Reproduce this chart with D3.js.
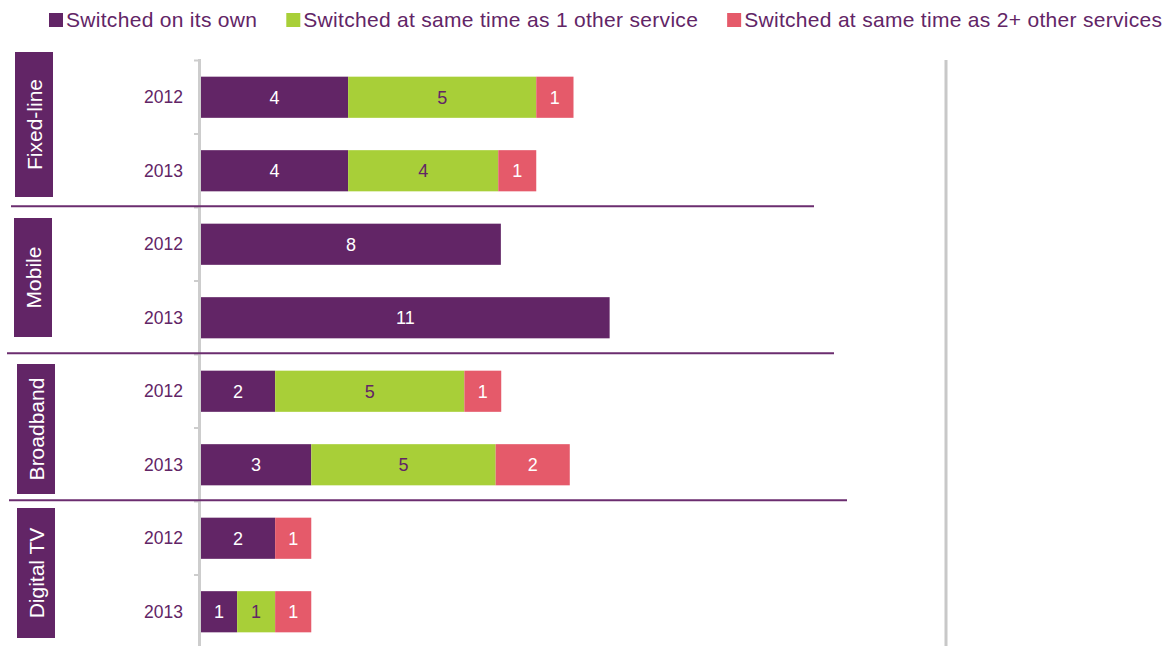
<!DOCTYPE html>
<html>
<head>
<meta charset="utf-8">
<script src="https://cdn.jsdelivr.net/npm/d3@7"></script>
<style>
  html, body { margin: 0; padding: 0; background: #fff; }
  svg { display: block; }
  svg text { font-family: "Liberation Sans", Arimo, Arial, Helvetica, sans-serif; }
</style>
</head>
<body>
<svg id="chart" width="1172" height="646"></svg>
<script>
// ---- data ----
const services = ["Fixed-line", "Mobile", "Broadband", "Digital TV"];
const years = ["2012", "2013"];
const seriesNames = [
  "Switched on its own",
  "Switched at same time as 1 other service",
  "Switched at same time as 2+ other services"
];
// rows: Fixed-line 2012, 2013, Mobile 2012, 2013, Broadband 2012, 2013, Digital TV 2012, 2013
const ownValues   = [3.95, 3.95, 8.05, 10.97, 1.99, 2.96, 1.99, 0.97];
const oneValues   = [5.05, 4.03, 0,    0,     5.08, 4.95, 0,    1.02];
const twoValues   = [1.00, 1.02, 0,    0,     0.99, 1.99, 0.97, 0.97];
const xMax = 20;

// ---- styles / layout ----
const FONT = "Liberation Sans";
const colors = ["#622566", "#a8cf38", "#e55a6a"];
const labelColors = ["#ffffff", "#622566", "#ffffff"];
const textPurple = "#622566";
const axisGray = "#cdcdcd";
// category label boxes [x, y, w, h] (hand-placed in original)
const boxLayout = [[15, 52, 38, 145], [14, 218, 38, 119], [17, 364, 38, 130], [17, 508, 38, 130]];
// separator line horizontal extents
const sepLayout = [[11, 814], [7, 834], [9, 847]];

const svg = d3.select("#chart");

const rows = [];
services.forEach((s, i) => years.forEach((y, j) => rows.push({ key: s + "|" + y, service: s, year: y, idx: i * 2 + j })));

const x = d3.scaleLinear().domain([0, xMax]).range([201, 946]);
const y = d3.scaleBand().domain(rows.map(r => r.key)).range([60.5, 648.5]).paddingInner(0.44).paddingOuter(0.22);
const step = y.step();
const y0 = 60.5;

// stacked data
const table = rows.map(r => ({ key: r.key, v0: ownValues[r.idx], v1: oneValues[r.idx], v2: twoValues[r.idx] }));
const stack = d3.stack().keys(["v0", "v1", "v2"])(table);

// right border line
svg.append("line").attr("x1", x(xMax)).attr("x2", x(xMax)).attr("y1", 60).attr("y2", 646)
  .attr("stroke", "#c8c8c8").attr("stroke-width", 3);

// y axis line with ticks at band boundaries
svg.append("line").attr("x1", 199.5).attr("x2", 199.5).attr("y1", 59).attr("y2", 646)
  .attr("stroke", axisGray).attr("stroke-width", 3);
d3.range(0, rows.length).forEach(i => {
  const yy = y0 + i * step;
  svg.append("line").attr("x1", 194).attr("x2", 199).attr("y1", yy).attr("y2", yy)
    .attr("stroke", axisGray).attr("stroke-width", 2);
});

// bars
stack.forEach((layer, si) => {
  const g = svg.append("g");
  layer.forEach((d, i) => {
    const val = d[1] - d[0];
    if (val <= 0) return;
    const key = table[i].key;
    g.append("rect")
      .attr("x", x(d[0])).attr("y", y(key))
      .attr("width", x(d[1]) - x(d[0])).attr("height", y.bandwidth())
      .attr("fill", colors[si]);
    g.append("text")
      .attr("x", (x(d[0]) + x(d[1])) / 2)
      .attr("y", y(key) + y.bandwidth() / 2 + 6.5)
      .attr("text-anchor", "middle")
      .attr("font-family", FONT)
      .attr("font-size", 18)
      .attr("fill", labelColors[si])
      .text(d3.format(".0f")(val));
  });
});

// group separators
sepLayout.forEach((ext, i) => {
  const yy = y0 + (i + 1) * 2 * step - 1.2;
  svg.append("line").attr("x1", ext[0]).attr("x2", ext[1]).attr("y1", yy).attr("y2", yy)
    .attr("stroke", "#6b2d6f").attr("stroke-width", 2);
});

// year labels
rows.forEach(r => {
  svg.append("text")
    .attr("x", 183).attr("y", y(r.key) + y.bandwidth() / 2 + 6)
    .attr("text-anchor", "end").attr("font-size", 17.5)
    .attr("font-family", FONT)
    .attr("fill", textPurple).text(r.year);
});

// category boxes
services.forEach((s, i) => {
  const [bx, by, bw, bh] = boxLayout[i];
  svg.append("rect").attr("x", bx).attr("y", by).attr("width", bw).attr("height", bh).attr("fill", colors[0]);
  const cx = bx + bw / 2, cy = by + bh / 2;
  svg.append("text")
    .attr("transform", `translate(${cx + 7.5},${cy}) rotate(-90)`)
    .attr("text-anchor", "middle").attr("font-size", 21)
    .attr("font-family", FONT)
    .attr("fill", "#ffffff").text(s);
});

// legend
let lx = 49;
seriesNames.forEach((n, i) => {
  svg.append("rect").attr("x", lx).attr("y", 13).attr("width", 14).attr("height", 14).attr("fill", colors[i]);
  const t = svg.append("text").attr("x", lx + 17).attr("y", 27).attr("font-size", 21)
    .attr("font-family", FONT).attr("letter-spacing", 0.3)
    .attr("fill", textPurple).text(n);
  lx = lx + 17 + t.node().getComputedTextLength() + 29;
});
</script>
</body>
</html>
